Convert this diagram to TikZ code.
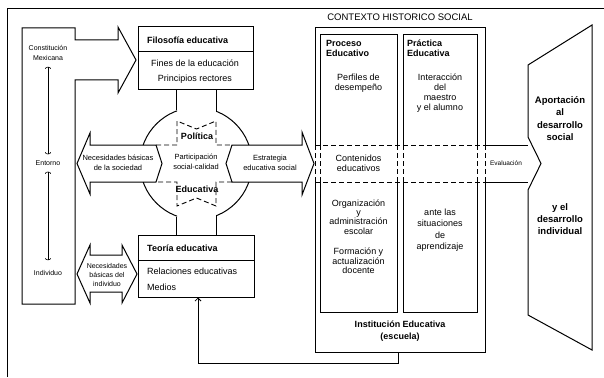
\documentclass[tikz,border=0pt]{standalone}
\usepackage{fontspec}
\setmainfont{Liberation Sans}
\usetikzlibrary{arrows.meta}
\begin{document}
\begin{tikzpicture}[x=1pt,y=-1pt,
  outl/.style={draw,line width=1pt,line join=miter},
  dsh/.style={draw,line width=0.9pt,dash pattern=on 5pt off 3pt},
  tx/.style={inner sep=0pt,align=center,font=\fontsize{9}{10}\selectfont},
  tb/.style={inner sep=0pt,align=center,font=\bfseries\fontsize{9}{10}\selectfont},
  ts/.style={inner sep=0pt,align=center,font=\fontsize{7}{10}\selectfont},
  tm/.style={inner sep=0pt,align=center,font=\fontsize{7.5}{9.5}\selectfont},
  barb/.style={line width=0.6pt,{Arc Barb[length=2pt,width=6pt]}-{Arc Barb[length=2pt,width=6pt]}}
]
\useasboundingbox (0,0) rectangle (604,377);

% outer frame
\draw[line width=0.7pt] (7,377) -- (7,8) -- (604,8);

% left column with arrow to Filosofia
\draw[outl] (22,28) -- (75,28) -- (75,40) -- (118,40) -- (118,27) -- (136,60) -- (118,93) -- (118,80) -- (75,80) -- (75,304) -- (22,304) -- cycle;
\node[ts] (lc1) at (48,53) {Constitución\\Mexicana};
\node[ts] (lc2) at (48,163) {Entorno};
\node[ts] (lc3) at (48,273) {Individuo};
\draw[barb] ([yshift=-6pt]lc1.south) -- ([yshift=6pt]lc2.north);
\draw[barb] ([yshift=-6pt]lc2.south) -- ([yshift=10pt]lc3.north);

% Filosofia box
\node[outl,rectangle,minimum width=115pt,minimum height=63pt,inner sep=0pt] (filo) at (195.5,58.5) {};
\draw[outl] (filo.west |- 0,52) -- (filo.east |- 0,52);
\node[tb,anchor=west] (filoT) at (147,40) {Filosofía educativa};
\node[tx] (filoF) at (195,63) {Fines de la educación};
\node[tx] (filoP) at (195,79) {Principios rectores};

% Teoria box
\node[outl,rectangle,minimum width=116pt,minimum height=62pt,inner sep=0pt] (teo) at (196,266) {};
\draw[outl] (teo.west |- 0,260) -- (teo.east |- 0,260);
\node[tb,anchor=west] (teoT) at (147,248) {Teoría educativa};
\node[tx,anchor=west] (teoR) at (147,271) {Relaciones educativas};
\node[tx,anchor=west] (teoM) at (147,287) {Medios};

% circle (clipped)
\begin{scope}
\clip (0,0) rectangle (177,145) (216,0) rectangle (604,145) (0,182) rectangle (177,377) (216,182) rectangle (604,377);
\node[outl,circle,minimum size=112pt,inner sep=0pt] (circ) at (196,163.5) {};
\end{scope}
\draw[outl] (filo.south -| circ.110) -- (circ.110);
\draw[outl] (filo.south -| circ.69) -- (circ.69);
\draw[outl] (circ.250) -- (teo.north -| circ.250);
\draw[outl] (circ.291) -- (teo.north -| circ.291);

% central dashed cross
\draw[dsh] (156,145) -- (177,145) -- (177,121) -- (196.5,129) -- (216,121) -- (216,145) -- (232,145);
\draw[dsh] (232,182) -- (216,182) -- (216,206) -- (196.5,198) -- (177,206) -- (177,182) -- (156,182);

% society double arrow
\draw[outl] (77,163.5) -- (90,133) -- (90,145) -- (156,145) -- (162,163.5) -- (156,182) -- (90,182) -- (90,194) -- cycle;
\node[tm] (socT) at (118,163) {Necesidades básicas\\de la sociedad};

% Estrategia arrow
\draw[outl] (232,145) -- (302,145) -- (302,132) -- (314,163.5) -- (302,195) -- (302,182) -- (232,182) -- (226,163.5) -- cycle;
\node[tm] (estT) at (270,163) {Estrategia\\educativa social};

\node[tm] (partT) at (196,162) {Participación\\social-calidad};
\node[tb] (polT) at (197,136) {Política};
\node[tb] (eduT) at (197,189) {Educativa};

% individuo double arrow
\draw[outl] (77,274) -- (90,245) -- (90,255) -- (122,255) -- (122,245) -- (137,274) -- (122,303) -- (122,292) -- (90,292) -- (90,303) -- cycle;
\node[inner sep=0pt,align=center,font=\fontsize{7}{8.7}\selectfont] (indT) at (107,275) {Necesidades\\básicas del\\individuo};

% Contexto box
\node[inner sep=0pt,minimum width=170pt,minimum height=324pt] (ctx) at (400,190) {};
\node[tx,font=\fontsize{9.5}{11}\selectfont] (ctxT) at (400,17) {CONTEXTO HISTORICO SOCIAL};
\draw[outl] (315,145) -- (315,28) -- (485,28) -- (485,145);
\draw[outl] (315,182) -- (315,352) -- (485,352) -- (485,182);
\draw[outl] (320,145) -- (320,35) -- (397,35) -- (397,145);
\draw[outl] (320,182) -- (320,312) -- (397,312) -- (397,182);
\draw[outl] (403,145) -- (403,35) -- (477,35) -- (477,145);
\draw[outl] (403,182) -- (403,312) -- (477,312) -- (477,182);
\draw[dsh] (315,145) -- (485,145) (315,182) -- (485,182);
\draw[dsh] (315,145) -- (315,182) (320,145) -- (320,182) (397,145) -- (397,182) (403,145) -- (403,182) (477,145) -- (477,182) (485,145) -- (485,182);

\node[tb,align=left,anchor=west] (procT) at (326,48) {Proceso\\Educativo};
\node[tx] (perf) at (358.5,83) {Perfiles de\\desempeño};
\node[tx] (cont) at (358.5,163) {Contenidos\\educativos};
\node[tx,font=\fontsize{9}{9.2}\selectfont] (org) at (358.5,217) {Organización\\y\\administración\\escolar};
\node[tx,font=\fontsize{9}{9.5}\selectfont] (form) at (358.5,261) {Formación y\\actualización\\docente};

\node[tb,align=left,anchor=west] (pracT) at (407,48) {Práctica\\Educativa};
\node[tx] (inter) at (440,93) {Interacción\\del\\maestro\\y el alumno};
\node[tx,font=\fontsize{9}{11.5}\selectfont] (ante) at (440,230) {ante las\\situaciones\\de\\aprendizaje};

\node[tb,font=\bfseries\fontsize{9}{12}\selectfont] (inst) at (400,331) {Institución Educativa\\(escuela)};

% Evaluacion arrow and trapezoid
\draw[outl] (485,145) -- (528,145) (485,182) -- (528,182);
\draw[outl] (528,137) -- (528,65) -- (592,25) -- (592,350) -- (528,315) -- (528,190) -- (541,163.5) -- cycle;
\node[inner sep=0pt,font=\fontsize{6.5}{8}\selectfont] (evalT) at (506,163.5) {Evaluación};
\node[tb,font=\bfseries\fontsize{9.5}{12.3}\selectfont] (aport) at (560,118.5) {Aportación\\al\\desarrollo\\social};
\node[tb,font=\bfseries\fontsize{9.5}{12}\selectfont] (indiv) at (560,219) {y el\\desarrollo\\individual};

% feedback connector
\draw[line width=0.8pt,-{Straight Barb[length=3pt,width=6pt]}] ([xshift=-2pt]ctx.south) -- ++(0,11) -| ([xshift=2pt]teo.south);
\end{tikzpicture}
\end{document}
